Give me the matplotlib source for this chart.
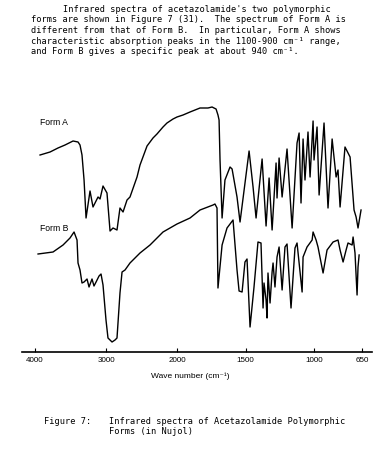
import numpy as np
import matplotlib
matplotlib.use("Agg")
import matplotlib.pyplot as plt

# ---------------- data ----------------
# Form A: wavenumber (cm-1) and trace height (arbitrary transmittance units)
formA_wn = [3929, 3788, 3676, 3577, 3464, 3394, 3366, 3338, 3309, 3281, 3225, 3183,
            3112, 3084, 3042, 2986, 2943, 2901, 2845, 2803, 2760, 2704, 2662, 2563,
            2521, 2422, 2338, 2282, 2197, 2141, 2056, 2000, 1956, 1905, 1832, 1774,
            1744, 1730, 1715, 1701, 1693, 1686, 1671, 1650, 1613, 1598, 1562, 1540,
            1474, 1445, 1423, 1379, 1350, 1328, 1306, 1277, 1270, 1255, 1233, 1197,
            1160, 1124, 1109, 1095, 1080, 1066, 1044, 1029, 1007, 1000, 978, 963,
            927, 898, 868, 839, 825, 810, 774, 737, 708, 693, 679, 657]
formA_t = [197, 200, 204, 207, 211, 210, 207, 197, 172, 134, 161, 145,
           155, 153, 166, 159, 121, 124, 122, 144, 140, 152, 155, 175,
           187, 206, 214, 218, 225, 229, 233, 235, 237, 240, 244, 244,
           245, 244, 243, 237, 232, 192, 134, 172, 185, 183, 155, 130,
           201, 165, 134, 193, 126, 174, 122, 189, 154, 194, 155, 203,
           124, 209, 219, 149, 213, 172, 220, 175, 231, 192, 225, 157,
           229, 144, 213, 175, 182, 145, 205, 195, 142, 135, 124, 142]

# Form B
formB_wn = [3957, 3746, 3605, 3507, 3450, 3408, 3394, 3366, 3338, 3309, 3267, 3239,
            3197, 3169, 3140, 3098, 3070, 3042, 3000, 2972, 2915, 2873, 2845, 2803,
            2774, 2732, 2662, 2521, 2380, 2197, 2000, 1905, 1832, 1737, 1723, 1708,
            1701, 1671, 1635, 1591, 1562, 1547, 1525, 1504, 1489, 1467, 1438, 1409,
            1387, 1372, 1365, 1350, 1343, 1336, 1321, 1306, 1299, 1285, 1270, 1255,
            1233, 1212, 1197, 1168, 1139, 1124, 1087, 1080, 1051, 1014, 1007, 985,
            971, 934, 905, 861, 825, 810, 788, 766, 752, 722, 715, 701, 686, 679, 671]
formB_t = [98, 100, 107, 114, 120, 112, 89, 82, 69, 70, 73, 65,
           73, 66, 70, 76, 78, 67, 32, 14, 10, 12, 14, 59,
           80, 82, 89, 99, 107, 120, 128, 134, 142, 147, 148, 144,
           64, 107, 124, 132, 82, 61, 60, 90, 93, 25, 65, 110,
           109, 44, 69, 52, 34, 79, 49, 80, 89, 65, 95, 105,
           62, 105, 108, 44, 104, 109, 60, 95, 105, 112, 120, 112,
           105, 79, 102, 110, 112, 102, 90, 102, 109, 107, 115, 99, 57, 85, 97]

tick_values = [4000, 3000, 2000, 1500, 1000, 650]
tick_labels = ["4000", "3000", "2000", "1500", "1000", "650"]

header_first = "Infrared spectra of acetazolamide's two polymorphic"
header_rest = [
    "forms are shown in Figure 7 (31).  The spectrum of Form A is",
    "different from that of Form B.  In particular, Form A shows",
    "characteristic absorption peaks in the 1100-900 cm\u207b\u00b9 range,",
    "and Form B gives a specific peak at about 940 cm\u207b\u00b9.",
]
caption_head = "Figure 7:"
caption_lines = ["Infrared spectra of Acetazolamide Polymorphic", "Forms (in Nujol)"]

# ---------------- figure ----------------
W, H = 383, 458
fig = plt.figure(figsize=(W / 100, H / 100), dpi=100)
fig.patch.set_facecolor("white")


def fx(px):
    return px / W


def fy(py):
    return 1 - py / H


ax = fig.add_axes([fx(22), fy(352), 350 / W, (352 - 95) / H])

# IR chart: scale doubles (approx.) below 2000 cm-1
RATIO = 1.93


def fwd(w):
    w = np.asarray(w, float)
    return np.where(w >= 2000, (w - 2000) / 1000.0, (w - 2000) / 1000.0 * RATIO)


def inv(p):
    p = np.asarray(p, float)
    return np.where(p >= 0, 2000 + p * 1000.0, 2000 + p * 1000.0 / RATIO)


ax.set_xscale("function", functions=(fwd, inv))
ax.plot(formA_wn, formA_t, color="black", lw=1.0, solid_joinstyle="round")
ax.plot(formB_wn, formB_t, color="black", lw=1.0, solid_joinstyle="round")
ax.set_xlim(4183, 577)
ax.set_ylim(0, 257)

for s in ["left", "right", "top"]:
    ax.spines[s].set_visible(False)
ax.spines["bottom"].set_linewidth(1.2)
ax.set_yticks([])
ax.set_xticks(tick_values)
ax.set_xticklabels(tick_labels, family=["Liberation Sans", "DejaVu Sans"])
ax.xaxis.set_minor_locator(matplotlib.ticker.NullLocator())
ax.tick_params(axis="x", direction="in", length=3, width=0.8, pad=3.5, labelsize=5.8)
ax.patch.set_alpha(0)

sans = ["Liberation Sans", "DejaVu Sans"]
mono = ["DejaVu Sans Mono", "DejaVu Sans"]

fig.text(fx(40), fy(122), "Form A", family=sans, size=6.2, va="center", ha="left")
fig.text(fx(40), fy(228), "Form B", family=sans, size=6.2, va="center", ha="left")
fig.text(fx(190), fy(376), "Wave number (cm\u207b\u00b9)", family=sans, size=6,
         va="center", ha="center")

fig.text(fx(63), fy(9.5), header_first, family=mono, size=6.2, va="center", ha="left")
for i, line in enumerate(header_rest):
    fig.text(fx(31), fy(20 + 10.5 * i), line, family=mono, size=6.2, va="center", ha="left")

fig.text(fx(44), fy(421), caption_head, family=mono, size=6.2, va="center", ha="left")
for i, line in enumerate(caption_lines):
    fig.text(fx(109), fy(421 + 10 * i), line, family=mono, size=6.2, va="center", ha="left")

fig.savefig("out.png", dpi=100, facecolor="white")
